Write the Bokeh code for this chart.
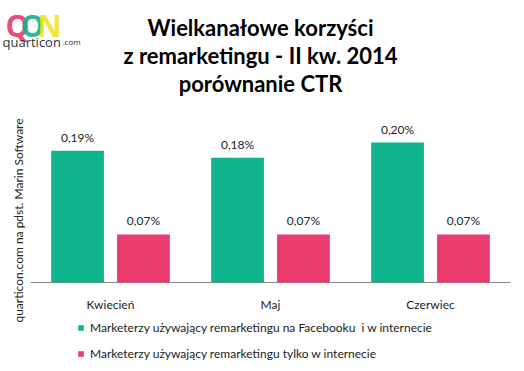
import math
from bokeh.plotting import figure
from bokeh.models import FactorRange, Range1d, Label, Legend, LegendItem, ColumnDataSource
from bokeh.transform import dodge
from bokeh.core.properties import value
from bokeh.embed import file_html
from bokeh.resources import INLINE

# ---- data ----
months = ["Kwiecień", "Maj", "Czerwiec"]
ctr_facebook_and_web = [0.192, 0.182, 0.204]
ctr_web_only = [0.070, 0.070, 0.070]
series_names = [
    "Marketerzy używający remarketingu na Facebooku  i w internecie",
    "Marketerzy używający remarketingu tylko w internecie",
]
title_lines = ["Wielkanałowe korzyści", "z remarketingu - II kw. 2014", "porównanie CTR"]
source_note = "quarticon.com na pdst. Marin Software"

GREEN = "#10b48c"
PINK = "#eb3c6d"
FONT = "Lato"
W, H = 524, 371
PX_PER_UNIT = 686.0
BASE_FROM_TOP = 282
CAT_PX = 160.0
SHIFT = 0.05  # shift of the whole category band (layout)

def fmt(v):
    return ("%.2f%%" % v).replace(".", ",")

src = ColumnDataSource(dict(
    month=months,
    fb=ctr_facebook_and_web,
    web=ctr_web_only,
    zero=[0] * len(months),
    fb_lbl=[fmt(v) for v in ctr_facebook_and_web],
    web_lbl=[fmt(v) for v in ctr_web_only],
))

pad_per_side = (W - CAT_PX * len(months)) / 2 / CAT_PX
p = figure(
    width=W, height=H,
    x_range=FactorRange(*months, range_padding=pad_per_side, range_padding_units="absolute"),
    y_range=Range1d(-(H - BASE_FROM_TOP) / PX_PER_UNIT, BASE_FROM_TOP / PX_PER_UNIT),
    output_backend="svg", toolbar_location=None,
    min_border=0, min_border_left=0, min_border_right=0, min_border_top=0, min_border_bottom=0,
)
p.outline_line_color = None
p.grid.visible = False
p.xaxis.visible = False
p.yaxis.visible = False
p.background_fill_color = "white"
p.border_fill_color = "white"

# baseline (axis line) across the category band
base = ColumnDataSource(dict(a=[months[0]], b=[months[-1]], y=[0]))
p.segment(x0=dodge("a", -0.5 + SHIFT, range=p.x_range), x1=dodge("b", 0.5 + SHIFT, range=p.x_range),
          y0="y", y1="y", source=base, line_color="#8a8a8a", line_width=1)

r1 = p.vbar(x=dodge("month", -0.206 + SHIFT, range=p.x_range), top="fb", width=0.33,
            source=src, color=GREEN, line_color=None)
r2 = p.vbar(x=dodge("month", 0.206 + SHIFT, range=p.x_range), top="web", width=0.33,
            source=src, color=PINK, line_color=None)

p.text(x=dodge("month", -0.206 + SHIFT, range=p.x_range), y="fb", text="fb_lbl", source=src,
       text_align="center", text_baseline="bottom", y_offset=-6,
       text_font=value(FONT), text_font_size="12px", text_color="#222222")
p.text(x=dodge("month", 0.206 + SHIFT, range=p.x_range), y="web", text="web_lbl", source=src,
       text_align="center", text_baseline="bottom", y_offset=-6,
       text_font=value(FONT), text_font_size="12px", text_color="#222222")

# category labels under the baseline
p.text(x=dodge("month", SHIFT, range=p.x_range), y="zero", text="month", source=src,
       text_align="center", text_baseline="top", y_offset=14,
       text_font=value(FONT), text_font_size="12px", text_color="#222222")

# title lines (screen units, measured from the bottom of the canvas)
for line, ytop in zip(title_lines, [27, 55, 83]):
    p.add_layout(Label(x=260, y=H - ytop, x_units="screen", y_units="screen", text=line,
                       text_align="center", text_baseline="alphabetic",
                       text_font=FONT, text_font_style="bold", text_font_size="22px",
                       text_color="#000000"))

# vertical source note
p.add_layout(Label(x=18, y=H - 220, x_units="screen", y_units="screen", text=source_note,
                   angle=math.pi / 2, text_align="center", text_baseline="middle",
                   text_font=FONT, text_font_size="12px", text_color="#222222"))

# logo
for ch, col, x in zip(["Q", "O", "N"], ["#e8336b", "#12b08e", "#f2e21a"], [17, 32, 49]):
    p.add_layout(Label(x=x, y=H - 25, x_units="screen", y_units="screen", text=ch,
                       text_align="center", text_baseline="alphabetic",
                       text_font="Open Sans", text_font_style="bold", text_font_size="30px",
                       text_color=col, text_alpha=0.9))
p.add_layout(Label(x=2, y=H - 41, x_units="screen", y_units="screen", text="quarticon",
                   text_align="left", text_baseline="alphabetic",
                   text_font="Open Sans", text_font_size="13px", text_color="#333333"))
p.add_layout(Label(x=62, y=H - 41, x_units="screen", y_units="screen", text=".com",
                   text_align="left", text_baseline="alphabetic",
                   text_font="Open Sans", text_font_size="8px", text_color="#333333"))

legend = Legend(items=[LegendItem(label=series_names[0], renderers=[r1]),
                       LegendItem(label=series_names[1], renderers=[r2])],
                location=(77, 8), orientation="vertical",
                glyph_width=7, glyph_height=7, label_standoff=6, spacing=6,
                padding=0, margin=0, border_line_color=None, background_fill_alpha=0,
                label_text_font=FONT, label_text_font_size="12px", label_text_color="#222222",
                label_height=20)
p.add_layout(legend, "center")

open("out.html", "w").write(file_html(p, INLINE))
